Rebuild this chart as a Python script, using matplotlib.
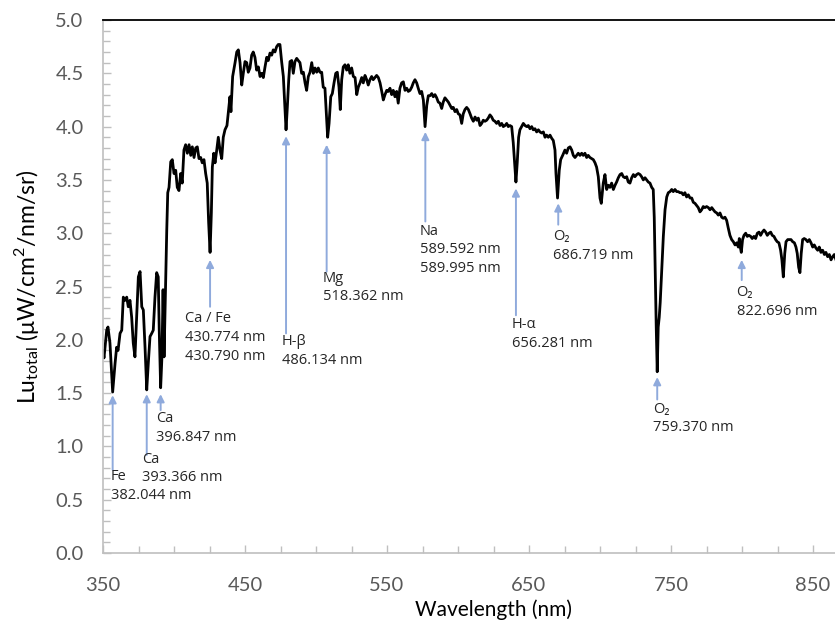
import numpy as np
import matplotlib
matplotlib.use('Agg')
import matplotlib.pyplot as plt
from matplotlib.ticker import MultipleLocator

plt.rcParams['font.family'] = ['Lato', 'DejaVu Sans']

# upwelling radiance spectrum
wavelength = [
    350.0, 350.7, 352.6, 353.5, 354.9, 356.8, 358.5, 359.6, 360.6, 362.0,
    363.2, 364.3, 365.5, 366.7, 367.8, 369.0, 370.2, 371.3, 372.5, 373.7,
    374.9, 376.1, 377.3, 378.4, 379.6, 380.8, 381.9, 383.1, 384.3, 385.4,
    386.6, 387.8, 388.9, 389.6, 390.6, 391.5, 392.3, 393.0, 393.9, 394.9,
    395.6, 396.5, 397.7, 398.8, 400.0, 401.2, 402.3, 403.5, 404.7, 405.8,
    407.0, 408.2, 409.4, 410.6, 411.8, 412.9, 414.1, 415.3, 416.4, 417.6,
    418.8, 419.9, 421.1, 422.3, 423.4, 424.4, 425.4, 426.3, 427.0, 428.0,
    428.9, 430.1, 431.2, 432.4, 433.6, 434.7, 435.9, 437.3, 439.4, 440.1,
    441.3, 443.0, 444.2, 445.3, 446.5, 447.7, 448.8, 450.0, 451.2, 452.3,
    453.5, 454.7, 455.8, 457.0, 458.2, 459.4, 460.6, 461.8, 462.9, 464.1,
    465.3, 466.4, 467.6, 468.8, 469.9, 471.1, 472.3, 473.4, 474.6, 475.8,
    477.0, 478.2, 478.9, 479.8, 480.8, 481.7, 482.9, 484.0, 485.2, 486.4,
    487.5, 488.7, 489.9, 491.1, 492.3, 493.4, 494.6, 495.8, 497.0, 498.1,
    499.3, 500.5, 501.6, 502.8, 504.0, 505.1, 506.3, 507.5, 508.2, 509.2,
    510.4, 511.5, 512.7, 513.9, 515.0, 516.2, 517.1, 518.1, 519.2, 520.4,
    521.6, 522.7, 523.9, 525.1, 526.3, 527.5, 528.7, 529.8, 531.0, 532.2,
    533.3, 534.5, 535.7, 536.8, 538.0, 539.2, 540.3, 541.5, 542.7, 543.9,
    545.1, 546.3, 547.4, 548.6, 549.8, 550.9, 552.1, 553.3, 554.4, 555.6,
    556.8, 557.9, 559.1, 560.3, 561.5, 562.7, 563.9, 565.0, 566.2, 567.4,
    568.5, 569.7, 570.9, 572.0, 573.2, 574.4, 575.6, 576.8, 578.0, 579.1,
    580.3, 581.5, 582.6, 583.8, 585.0, 586.1, 587.3, 588.5, 589.6, 590.8,
    592.0, 593.2, 594.4, 595.6, 596.7, 597.9, 599.1, 600.2, 601.4, 602.6,
    603.7, 604.9, 606.1, 607.3, 608.5, 609.6, 610.8, 612.0, 613.2, 614.3,
    615.5, 616.7, 617.8, 619.0, 620.2, 621.3, 622.5, 623.7, 624.8, 626.0,
    627.2, 628.4, 629.6, 630.8, 631.9, 633.1, 634.3, 635.4, 636.6, 637.8,
    638.9, 640.1, 640.8, 641.7, 642.7, 643.6, 644.8, 646.0, 647.2, 648.4,
    649.5, 650.7, 651.9, 653.0, 654.2, 655.4, 656.6, 657.7, 658.9, 660.1,
    661.3, 662.4, 663.6, 664.8, 666.0, 667.1, 668.3, 669.0, 670.1, 671.3,
    672.3, 673.7, 675.3, 676.5, 677.7, 678.9, 680.1, 681.2, 682.4, 683.6,
    684.7, 685.9, 687.1, 688.2, 689.4, 690.6, 691.7, 692.9, 694.1, 695.3,
    696.5, 697.6, 698.8, 700.0, 700.9, 702.3, 703.5, 704.7, 705.8, 707.0,
    708.2, 709.4, 710.6, 711.7, 712.9, 714.1, 715.3, 716.4, 717.6, 718.8,
    719.9, 721.1, 722.3, 723.5, 724.6, 725.8, 727.0, 728.2, 729.3, 730.5,
    731.7, 732.9, 734.0, 735.2, 736.4, 737.5, 738.2, 738.9, 739.6, 740.3,
    741.0, 741.7, 742.4, 743.4, 744.6, 745.8, 747.0, 748.1, 749.3, 750.5,
    751.6, 752.8, 754.0, 755.1, 756.3, 757.5, 758.6, 759.8, 761.0, 762.2,
    763.4, 764.6, 765.7, 766.9, 768.1, 769.2, 770.4, 771.6, 772.7, 773.9,
    775.1, 776.3, 777.5, 778.7, 779.8, 781.0, 782.2, 783.3, 784.5, 785.7,
    786.8, 788.0, 789.2, 790.3, 791.5, 792.7, 793.9, 795.1, 796.3, 797.4,
    798.1, 798.8, 799.5, 800.4, 801.4, 802.6, 803.7, 804.9, 806.1, 807.2,
    808.4, 809.6, 810.8, 812.0, 813.1, 814.3, 815.5, 816.7, 817.8, 819.0,
    820.2, 821.3, 822.5, 823.7, 824.8, 826.0, 827.2, 828.1, 829.1, 830.1,
    831.0, 832.2, 833.3, 834.5, 835.7, 836.9, 838.0, 838.9, 839.9, 840.8,
    841.7, 842.7, 843.8, 845.0, 846.2, 847.4, 848.6, 849.8, 850.9, 852.1,
    853.3, 854.4, 855.6, 856.8, 858.0, 859.1, 860.3, 861.5, 862.7, 863.9,
    865.0, 866.2,
]
radiance = [
    1.90, 1.83, 2.09, 2.12, 1.97, 1.51, 1.78, 1.93, 1.90, 2.06,
    2.09, 2.40, 2.37, 2.40, 2.31, 2.37, 2.21, 1.97, 1.84, 2.21,
    2.59, 2.64, 2.31, 2.28, 1.93, 1.53, 1.78, 2.03, 2.06, 2.09,
    2.40, 2.63, 2.59, 2.09, 1.55, 1.84, 2.47, 1.84, 2.40, 3.03,
    3.38, 3.43, 3.67, 3.69, 3.56, 3.59, 3.43, 3.40, 3.56, 3.47,
    3.78, 3.83, 3.75, 3.83, 3.73, 3.81, 3.71, 3.80, 3.81, 3.70,
    3.71, 3.66, 3.69, 3.56, 3.47, 3.10, 2.82, 3.19, 3.62, 3.75,
    3.66, 3.78, 3.90, 3.78, 3.70, 3.90, 3.97, 4.01, 4.28, 4.14,
    4.47, 4.60, 4.70, 4.72, 4.60, 4.39, 4.50, 4.61, 4.60, 4.51,
    4.55, 4.67, 4.70, 4.65, 4.53, 4.56, 4.47, 4.50, 4.46, 4.56,
    4.65, 4.62, 4.69, 4.67, 4.72, 4.70, 4.75, 4.77, 4.77, 4.61,
    4.47, 4.16, 3.97, 4.18, 4.44, 4.61, 4.62, 4.50, 4.61, 4.64,
    4.62, 4.60, 4.50, 4.51, 4.41, 4.34, 4.47, 4.51, 4.60, 4.50,
    4.55, 4.51, 4.55, 4.51, 4.51, 4.37, 4.36, 4.06, 3.90, 4.03,
    4.28, 4.31, 4.41, 4.50, 4.51, 4.37, 4.16, 4.44, 4.56, 4.58,
    4.53, 4.58, 4.50, 4.55, 4.47, 4.46, 4.30, 4.37, 4.41, 4.46,
    4.41, 4.48, 4.44, 4.39, 4.44, 4.47, 4.44, 4.46, 4.48, 4.46,
    4.41, 4.33, 4.25, 4.30, 4.34, 4.33, 4.36, 4.30, 4.34, 4.28,
    4.33, 4.22, 4.36, 4.41, 4.42, 4.34, 4.36, 4.33, 4.34, 4.37,
    4.41, 4.44, 4.41, 4.36, 4.31, 4.33, 4.25, 4.00, 4.20, 4.29,
    4.29, 4.31, 4.28, 4.30, 4.27, 4.23, 4.22, 4.17, 4.23, 4.27,
    4.25, 4.23, 4.20, 4.17, 4.18, 4.14, 4.16, 4.12, 4.11, 4.03,
    4.12, 4.16, 4.18, 4.16, 4.12, 4.08, 4.05, 4.09, 4.06, 4.08,
    4.01, 4.03, 4.06, 4.05, 4.06, 4.08, 4.11, 4.09, 4.06, 4.05,
    4.03, 4.05, 4.01, 4.03, 4.00, 4.01, 4.03, 4.00, 4.01, 4.00,
    3.85, 3.62, 3.48, 3.66, 3.90, 3.97, 4.00, 4.03, 4.01, 4.00,
    4.01, 3.98, 4.00, 3.97, 3.98, 3.95, 3.97, 3.95, 3.94, 3.95,
    3.90, 3.92, 3.90, 3.92, 3.89, 3.87, 3.78, 3.56, 3.33, 3.59,
    3.69, 3.73, 3.78, 3.75, 3.80, 3.81, 3.78, 3.73, 3.71, 3.73,
    3.75, 3.73, 3.75, 3.73, 3.75, 3.71, 3.73, 3.71, 3.70, 3.69,
    3.66, 3.62, 3.53, 3.33, 3.28, 3.47, 3.55, 3.41, 3.45, 3.43,
    3.47, 3.41, 3.45, 3.48, 3.52, 3.55, 3.56, 3.53, 3.52, 3.53,
    3.48, 3.47, 3.52, 3.55, 3.53, 3.55, 3.56, 3.55, 3.53, 3.50,
    3.52, 3.50, 3.48, 3.47, 3.43, 3.41, 3.15, 2.63, 2.12, 1.70,
    2.12, 2.21, 2.35, 2.63, 2.97, 3.22, 3.34, 3.38, 3.39, 3.41,
    3.39, 3.41, 3.39, 3.39, 3.38, 3.38, 3.36, 3.38, 3.34, 3.36,
    3.33, 3.33, 3.29, 3.28, 3.26, 3.24, 3.20, 3.22, 3.25, 3.24,
    3.25, 3.24, 3.22, 3.24, 3.22, 3.20, 3.19, 3.17, 3.19, 3.15,
    3.14, 3.15, 3.12, 3.05, 2.98, 2.94, 2.92, 2.89, 2.91, 2.87,
    2.95, 2.87, 2.82, 2.94, 2.98, 3.00, 2.97, 2.98, 2.97, 2.95,
    2.97, 2.95, 3.00, 3.01, 2.98, 3.01, 3.03, 3.01, 2.98, 3.00,
    3.01, 2.98, 2.97, 2.94, 2.92, 2.91, 2.84, 2.75, 2.59, 2.81,
    2.92, 2.94, 2.94, 2.94, 2.92, 2.91, 2.87, 2.81, 2.68, 2.63,
    2.81, 2.94, 2.95, 2.94, 2.92, 2.94, 2.91, 2.87, 2.89, 2.86,
    2.84, 2.87, 2.82, 2.84, 2.80, 2.82, 2.78, 2.80, 2.75, 2.78,
    2.80, 2.75,
]

x_ticks = [350, 450, 550, 650, 750, 850]

# absorption line annotations
line_labels = [
    ['Fe', '382.044 nm'],
    ['Ca', '393.366 nm'],
    ['Ca', '396.847 nm'],
    ['Ca / Fe', '430.774 nm', '430.790 nm'],
    ['H-\u03b2', '486.134 nm'],
    ['Mg', '518.362 nm'],
    ['Na', '589.592 nm', '589.995 nm'],
    ['H-\u03b1', '656.281 nm'],
    ['O\u2082', '686.719 nm'],
    ['O\u2082', '759.370 nm'],
    ['O\u2082', '822.696 nm'],
]
arrow_x = [356.8, 380.8, 390.6, 425.4, 478.9, 507.5, 577.0, 640.8, 670.6, 740.3, 799.8]
arrow_tip = [1.48, 1.49, 1.49, 2.75, 3.91, 3.83, 3.95, 3.42, 3.28, 1.65, 2.75]
arrow_tail = [0.78, 0.92, 1.34, 2.31, 2.06, 2.64, 3.11, 2.23, 3.08, 1.44, 2.56]
text_x = [355.3, 377.3, 387.3, 407.7, 475.8, 504.7, 573.2, 637.8, 666.9, 737.1, 796.2]
text_top = [0.79, 0.95, 1.33, 2.27, 2.05, 2.65, 3.09, 2.21, 3.04, 1.42, 2.51]
line_step = 0.176

fig = plt.figure(figsize=(8.35, 6.24), dpi=100)
ax = fig.add_axes([103 / 835, 71 / 624, 781 / 835, 533 / 624])

ax.plot(wavelength, radiance, color='black', lw=2.0, solid_joinstyle='round')

for lines, ax_x, tip, tail, tx, ty in zip(line_labels, arrow_x, arrow_tip, arrow_tail, text_x, text_top):
    ax.annotate('', xy=(ax_x, tip), xytext=(ax_x, tail),
                arrowprops=dict(arrowstyle='-|>', color='#8FAADC', lw=1.4,
                                mutation_scale=11, shrinkA=0, shrinkB=0))
    for i, s in enumerate(lines):
        ax.text(tx, ty - i * line_step, s, ha='left', va='top', fontsize=10.5,
                color='#262626', family=['Open Sans', 'DejaVu Sans'])

ax.set_xlim(350, 900)
ax.set_ylim(0, 5)
ax.set_xticks(x_ticks)
ax.xaxis.set_minor_locator(MultipleLocator(25))
ax.yaxis.set_major_locator(MultipleLocator(0.5))
ax.yaxis.set_minor_locator(MultipleLocator(0.1))
ax.yaxis.set_major_formatter(plt.FormatStrFormatter('%.1f'))

ax.tick_params(which='both', direction='in', color='#BFBFBF', labelcolor='#595959',
               labelsize=14.5)
ax.tick_params(which='major', length=6, width=1)
ax.tick_params(which='minor', length=5, width=1)
ax.tick_params(axis='x', pad=17)
ax.tick_params(axis='y', pad=14)

for s in ['left', 'bottom']:
    ax.spines[s].set_color('#BFBFBF')
    ax.spines[s].set_linewidth(1.2)
ax.spines['right'].set_visible(False)
ax.spines['top'].set_color('black')
ax.spines['top'].set_linewidth(1.3)

ax.set_xlabel('Wavelength (nm)', fontsize=15, color='black', labelpad=4)
ax.set_ylabel('Lu$_{\\mathregular{total}}$ (\u03bcW/cm$^{\\mathregular{2}}$/nm/sr)',
              fontsize=16.5, color='black', labelpad=10)

fig.savefig('out.png', dpi=100)
